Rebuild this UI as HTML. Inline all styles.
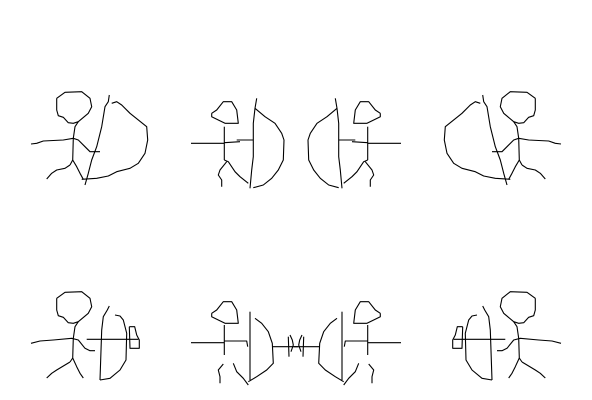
<!DOCTYPE html>
<html><head><meta charset="utf-8"><style>
html,body{margin:0;padding:0;background:#fff;}
svg{display:block;}
polyline{fill:none;stroke:#000;stroke-width:1.1;stroke-linejoin:round;}
</style></head><body>
<svg width="592" height="400" viewBox="0 0 592 400">
<defs>
<g id="fig1">
  <polyline points="56.7,98.3 65,92.3 81.7,91.7 90,98.3 91.7,106.7 88.3,113.3 78.3,121.7 73.3,123.3 68.3,122.7 63.3,117.3 58.3,115.7 56.7,110 56.7,98.3"/>
  <polyline points="78.3,121.7 75,126.7 73.3,138.3 72.7,160 70,165"/>
  <polyline points="70,165 65,168.3 56.7,170 51.7,173.3 46.7,179"/>
  <polyline points="72.7,160 76.7,166.7 80,173.3 83.3,179.3"/>
  <polyline points="31,144 36.7,143.3 43.3,141 63.3,140 73.3,138.3 78.3,140 85,146.7 90,151.7 100,151.7"/>
  <polyline points="109.3,95 108.3,101.7 105,106.7 101.7,126.7 96.7,146.7 91.7,160 88.3,173.3 85,185"/>
  <polyline points="111.7,103.3 116.7,101.7 121.7,105 130,113.3 146.7,126.7 147.7,140 145,153.3 138.3,163.3 130,168.3 116.7,171.7 108.3,176 96.7,178.3 81.7,179.3"/>
</g>
<g id="fig2">
  <polyline points="211.7,113.3 216.7,110 223.3,101.7 231.7,101.7 236.7,110 238.3,123.3 225,123.3 218.3,120 211.7,116.7 211.7,113.3"/>
  <polyline points="224.3,126.7 224.3,160"/>
  <polyline points="224.3,160 228.3,161.7 235,171.7 240,176.7 248.3,183.3"/>
  <polyline points="226.7,161.7 220,170 218.3,175 221.7,180 221.7,186.7"/>
  <polyline points="191,143.3 224.3,143.3"/>
  <polyline points="224.3,142.7 240,141.7"/>
  <polyline points="236.7,140 253.3,140"/>
  <polyline points="256.7,98.3 255,108.3 253.3,123.3 253.3,156.7 251.7,170 250,188.3"/>
  <polyline points="255,108.3 265,116.7 275,123.3 281.7,133.3 284,140 283.3,160 278.3,170 271.7,178.3 263.3,185 253.3,187.7"/>
</g>
<g id="fig3">
  <polyline points="56.7,298.3 65,292.3 81.7,291.7 90,298.3 91.7,306.7 88.3,313.3 78.3,321.7 73.3,323.3 68.3,322.7 63.3,317.3 58.3,315.7 56.7,310 56.7,298.3"/>
  <polyline points="78.3,321.7 75,326.7 73.3,338.3 72.7,358 70,362"/>
  <polyline points="70,362 65,365 56.7,370 51.7,373.3 46.7,378"/>
  <polyline points="72.7,358 76.7,366.7 80,373.3 83.3,378"/>
  <polyline points="31,343.3 40,341 53.3,340 71.7,338.3 78.3,340 85,348.3 90,350.7 95,350.7"/>
  <polyline points="86.7,339.3 138.3,339.3"/>
  <polyline points="100,380 101.7,330 103.3,316.7 107.3,310 109.3,306"/>
  <polyline points="115,315 120,316 123.3,320 126.7,333.3 126,360 120,370 110,378.3 100,380"/>
  <polyline points="129.3,326.7 134.7,326.7 136.7,335 139.3,340 139.3,348.3 130,348.3 129.3,326.7"/>
</g>
<g id="fig4">
  <polyline points="211.7,313.3 216.7,310 223.3,301.7 231.7,301.7 236.7,310 238.3,323.3 225,323.3 218.3,320 211.7,316.7 211.7,313.3"/>
  <polyline points="224.3,325 224.3,355"/>
  <polyline points="191,342.7 224.3,342.7"/>
  <polyline points="224.3,341 246.7,341 247.7,346.7"/>
  <polyline points="223.3,364 218.3,370 220,376.7 220,383.3"/>
  <polyline points="233.3,363.3 236.7,371.7 243.3,378.3 248.3,385"/>
  <polyline points="250,311.7 250,380"/>
  <polyline points="255,318.3 261.7,323.3 268.3,331.7 272.3,343.3 273.3,363.3 266.7,370 256.7,376.7 248.3,381.7"/>
  <polyline points="272.3,346.7 298.3,346.7"/>
  <polyline points="288.3,336.7 289,356.7"/>
  <polyline points="290,335 292.3,340 293.3,345 291,351.7"/>
</g>
</defs>
<g>
  <use href="#fig1"/><use href="#fig2"/><use href="#fig3"/><use href="#fig4"/>
</g>
<g transform="translate(592,0) scale(-1,1)">
  <use href="#fig1"/><use href="#fig2"/><use href="#fig3"/><use href="#fig4"/>
</g>
</svg>
</body></html>
